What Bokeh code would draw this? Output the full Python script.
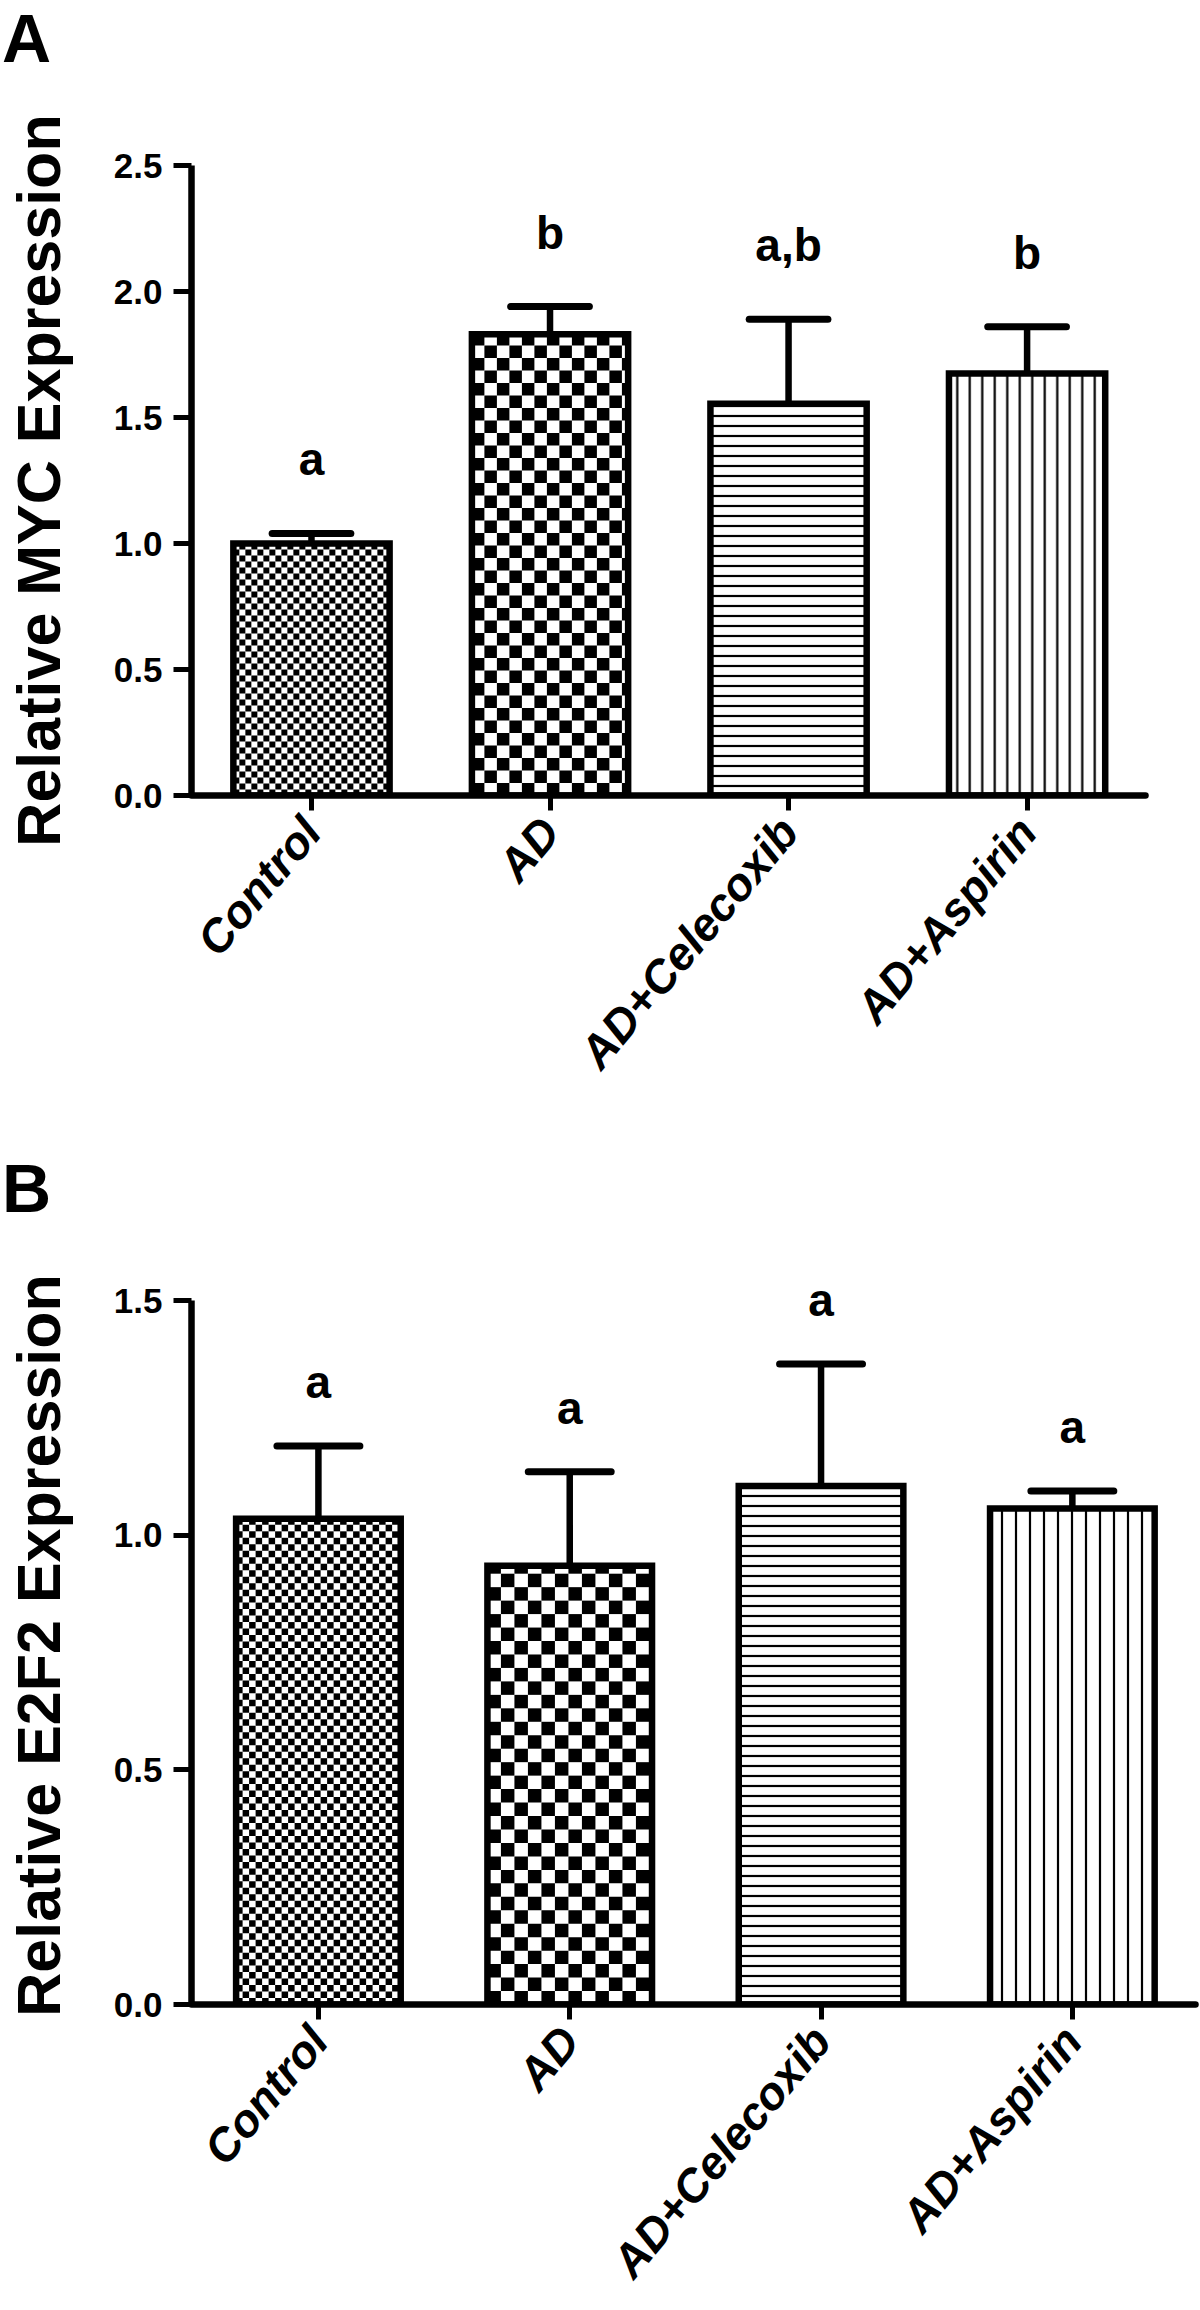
import math
from bokeh.plotting import figure
from bokeh.models import (Range1d, FixedTicker, PrintfTickFormatter, LabelSet,
                          ColumnDataSource, Div)
from bokeh.layouts import column
from bokeh.embed import file_html
from bokeh.resources import INLINE
from bokeh.core.properties import value

# ---------------- data ----------------
categories = ["Control", "AD", "AD+Celecoxib", "AD+Aspirin"]

myc_mean = [1.00, 1.83, 1.555, 1.675]
myc_err = [0.04, 0.11, 0.335, 0.185]
myc_letters = ["a", "b", "a,b", "b"]
myc_ticks = [0.0, 0.5, 1.0, 1.5, 2.0, 2.5]

e2f2_mean = [1.035, 0.935, 1.105, 1.057]
e2f2_err = [0.155, 0.20, 0.26, 0.037]
e2f2_letters = ["a", "a", "a", "a"]
e2f2_ticks = [0.0, 0.5, 1.0, 1.5]

FONT = "Liberation Sans"


def tag_div(txt):
    return Div(text=f'<div style="font-family:\'Liberation Sans\',Arial,sans-serif;'
                    f'font-weight:bold;font-size:68px;line-height:68px;'
                    f'margin:4px 0 0 2px;color:black;">{txt}</div>',
               width=200, height=70, margin=(0, 0, 0, 0))


def make_panel(ylabel, means, errs, letters, ticks, yaxis_max, yr_max, xr,
               xaxis_end, width, height, bl, br, bt, bb, checker_px, hatch_h,
               hatch_v, letter_up):
    fw = width - bl - br
    fh = height - bt - bb
    px_x = fw / (xr[1] - xr[0])
    px_y = fh / yr_max

    p = figure(width=width, height=height, output_backend="svg",
               toolbar_location=None, x_range=Range1d(*xr),
               y_range=Range1d(0, yr_max), min_border_left=bl,
               min_border_right=br, min_border_top=bt, min_border_bottom=bb)
    p.outline_line_color = None
    p.xgrid.grid_line_color = None
    p.ygrid.grid_line_color = None
    p.background_fill_color = "white"
    p.border_fill_color = "white"

    xs = list(range(len(categories)))
    bw = 0.655
    tops = [m + e for m, e in zip(means, errs)]

    # white base
    p.vbar(x=xs, top=means, width=bw, fill_color="white", line_color=None)

    # checkerboards for the first two bars
    for idx, cpx in zip([0, 1], checker_px):
        cw = cpx / px_x
        ch = cpx / px_y
        l0 = xs[idx] - bw / 2
        r0 = xs[idx] + bw / 2
        top = means[idx]
        ncol = int(math.ceil(bw / cw))
        nrow = int(math.ceil(top / ch))
        L, R, B, T = [], [], [], []
        for i in range(ncol):
            for j in range(nrow):
                if (i + j) % 2 == 0:
                    L.append(l0 + i * cw)
                    R.append(min(l0 + (i + 1) * cw, r0))
                    B.append(j * ch)
                    T.append(min((j + 1) * ch, top))
        p.quad(left=L, right=R, bottom=B, top=T, fill_color="black",
               line_color=None)

    # hatched bars
    p.vbar(x=[xs[2]], top=[means[2]], width=bw, fill_color="white",
           line_color=None, hatch_pattern="horizontal_line",
           hatch_scale=hatch_h, hatch_weight=2.2, hatch_color="black")
    p.vbar(x=[xs[3]], top=[means[3]], width=bw, fill_color="white",
           line_color=None, hatch_pattern="vertical_line",
           hatch_scale=hatch_v, hatch_weight=2.2, hatch_color="black")

    # outlines
    p.vbar(x=xs, top=means, width=bw, fill_color=None, line_color="black",
           line_width=6.5, line_join="miter")

    # error bars (upper only)
    cap = 0.33
    p.segment(x0=xs, y0=means, x1=xs, y1=tops, line_color="black",
              line_width=6.5)
    p.segment(x0=[x - cap / 2 for x in xs], y0=tops,
              x1=[x + cap / 2 for x in xs], y1=tops, line_color="black",
              line_width=7, line_cap="round")

    # significance letters
    src = ColumnDataSource(dict(x=xs, y=tops, t=letters))
    p.add_layout(LabelSet(x="x", y="y", text="t", source=src,
                          text_align="center", text_baseline="alphabetic",
                          y_offset=letter_up, text_font=value(FONT),
                          text_font_size=value("46px"),
                          text_font_style=value("bold"),
                          text_color=value("black")))

    # axes
    xa = p.xaxis[0]
    xa.ticker = FixedTicker(ticks=xs)
    xa.major_label_overrides = {i: c for i, c in enumerate(categories)}
    xa.major_label_orientation = math.radians(50)
    xa.major_label_text_font = FONT
    xa.major_label_text_font_size = "46px"
    xa.major_label_text_font_style = "bold italic"
    xa.major_label_text_color = "black"
    xa.major_label_standoff = 13
    xa.axis_line_width = 6.5
    xa.axis_line_cap = "round"
    xa.bounds = (xr[0], xaxis_end)
    xa.major_tick_line_width = 5
    xa.major_tick_out = 15
    xa.major_tick_in = 0
    xa.minor_tick_line_color = None

    ya = p.yaxis[0]
    ya.ticker = FixedTicker(ticks=ticks)
    ya.formatter = PrintfTickFormatter(format="%.1f")
    ya.bounds = (0, yaxis_max)
    ya.axis_line_width = 6.5
    ya.major_tick_line_width = 5
    ya.major_tick_out = 18
    ya.major_tick_in = 0
    ya.minor_tick_line_color = None
    ya.major_label_text_font = FONT
    ya.major_label_text_font_size = "35px"
    ya.major_label_text_font_style = "bold"
    ya.major_label_text_color = "black"
    ya.major_label_standoff = 11
    ya.axis_label = ylabel
    ya.axis_label_text_font = FONT
    ya.axis_label_text_font_size = "61px"
    ya.axis_label_text_font_style = "bold"
    ya.axis_label_text_color = "black"
    ya.axis_label_standoff = 38
    return p


# Panel A: frame x 191..1195 (axis drawn to 1145), y 0 at 795, 2.5 at 165
pA = make_panel("Relative MYC Expression", myc_mean, myc_err, myc_letters,
                myc_ticks, 2.5, 2.5, (-0.503, 3.706), 3.497,
                1200, 1080, 191, 5, 95, 355, (6, 12.5), 10, 12.5, 58)
# Panel B: frame x 191..1195, y 0 at 2006, 1.5 at 1300
pB = make_panel("Relative E2F2 Expression", e2f2_mean, e2f2_err, e2f2_letters,
                e2f2_ticks, 1.5, 1.53, (-0.505, 3.490), 3.490,
                1200, 1086, 191, 5, 66, 300, (6.5, 13.5), 10, 14, 48)

layout = column(tag_div("A"), pA, tag_div("B"), pB, spacing=0)
open("out.html", "w").write(file_html(layout, INLINE))
